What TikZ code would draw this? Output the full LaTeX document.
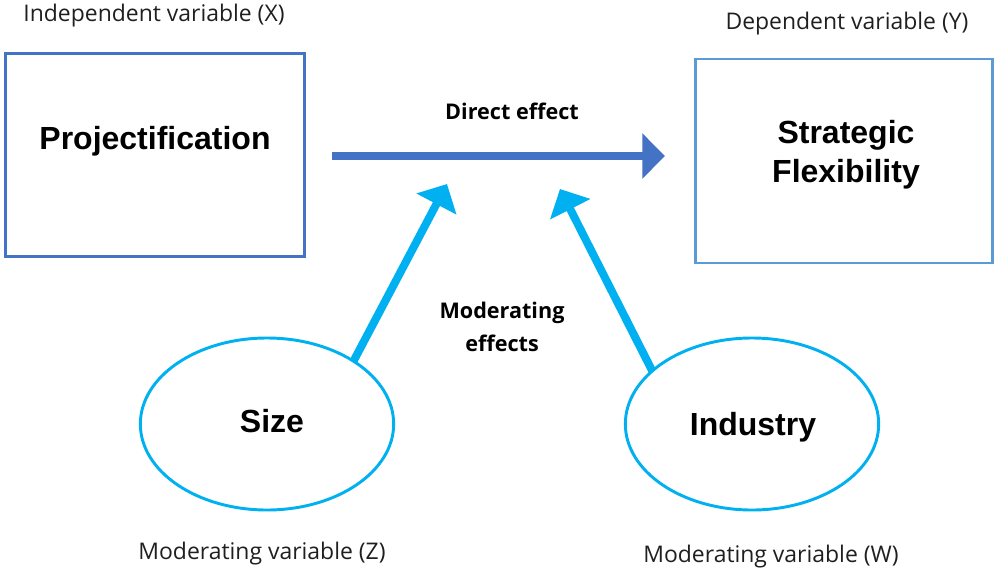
\documentclass[tikz,border=0pt]{standalone}
\usepackage{fontspec}
\usepackage{tikz}
\usetikzlibrary{positioning,arrows.meta,shapes.geometric}
\newfontfamily\labelfont{Open Sans}
\newfontfamily\boxfont{Liberation Sans}
\definecolor{ModBlue}{HTML}{4472C4}
\definecolor{ModLight}{HTML}{5B9BD5}
\definecolor{ModCyan}{HTML}{00B0F0}

\begin{document}
\begin{tikzpicture}[
    x=0.75pt, y=-0.75pt,
    varbox/.style={
      draw=ModBlue,
      line width=2.4pt,
      minimum width=224pt,
      minimum height=152pt,
      inner sep=0pt
    },
    varoval/.style={
      ellipse,
      draw=ModCyan,
      line width=2.2pt,
      minimum width=190pt,
      minimum height=129pt,
      inner sep=0pt,
      outer sep=0pt
    },
    vartitle/.style={
      align=center,
      inner sep=0pt,
      font=\boxfont\fontsize{24}{29}\selectfont\bfseries
    },
    varnote/.style={
      inner sep=0pt,
      text=black!88,
      font=\labelfont\fontsize{17.2}{20}\selectfont
    },
    effnote/.style={
      align=center,
      inner sep=0pt,
      font=\labelfont\fontsize{16.2}{25}\selectfont\bfseries
    },
    directarrow/.style={
      -{Triangle[length=17pt,width=33pt]},
      line width=6pt,
      ModBlue
    },
    modarrow/.style={
      -{Triangle[length=17pt,width=33pt]},
      line width=6pt,
      ModCyan
    }
  ]
  \useasboundingbox (0,0) rectangle (996,569);

  % X and Y
  \node[varbox] (projbox) at (155,155) {};
  \node[vartitle] (projtitle) at (155,141) {Projectification};
  \node[varbox, draw=ModLight, line width=2pt, minimum width=223pt, minimum height=153pt] (flexbox) at (844,161) {};
  \node[vartitle] (flextitle) at (846,155) {Strategic\\Flexibility};

  % moderators
  \node[varoval] (size) at (267,424) {};
  \node[vartitle] (sizetitle) at (272,421) {Size};
  \node[varoval] (industry) at (752,424) {};
  \node[vartitle] (indtitle) at (753,427) {Industry};

  % captions
  \node[varnote] (xnote) at (154,16) {Independent variable (X)};
  \node[varnote] (ynote) at (847,24) {Dependent variable (Y)};
  \node[varnote] (znote) at (262,554) {Moderating variable (Z)};
  \node[varnote] (wnote) at (771,557) {Moderating variable (W)};
  \node[effnote] (direct) at (512,111) {Direct effect};
  \node[effnote] (moder) at (502,327) {Moderating\\effects};

  % direct path
  \coordinate (dstart) at (332,156);
  \coordinate (dend) at (665,156);
  \draw[directarrow] (dstart) -- (dend);

  % moderating paths
  \coordinate (tipZ) at (447,184);
  \coordinate (tipW) at (560,189);
  \draw[modarrow] (size.36) -- (tipZ);
  \draw[modarrow] (industry.152) -- (tipW);

\end{tikzpicture}
\end{document}
